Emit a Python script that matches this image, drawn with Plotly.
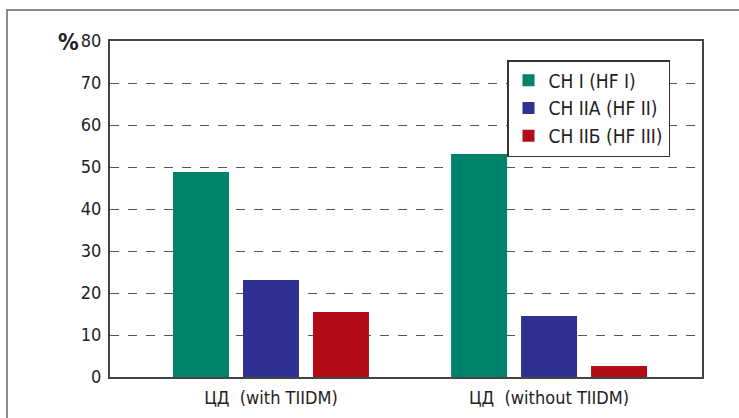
import plotly.graph_objects as go

categories = ["ЦД  (with TIIDM)", "ЦД  (without TIIDM)"]
series_names = ["СН I (HF I)", "СН IIА (HF II)", "СН IIБ (HF III)"]
hf1 = [48.8, 53.1]
hf2 = [23.1, 14.5]
hf3 = [15.5, 2.6]
colors = ["#00826B", "#2E3192", "#B20D17"]
y_ticks = [0, 10, 20, 30, 40, 50, 60, 70, 80]

FONT = "DejaVu Sans Condensed, Liberation Sans Narrow, sans-serif"

fig = go.Figure()
for name, vals, col in zip(series_names, [hf1, hf2, hf3], colors):
    fig.add_trace(go.Bar(x=categories, y=vals, name=name,
                         marker=dict(color=col, line=dict(width=0))))

W, H = 739, 418
L, R, T, B = 110, 37, 41, 41
pw, ph = W - L - R, H - T - B

def px(x):
    return (x - L) / pw

def py(y):
    return (H - B - y) / ph

fig.update_layout(
    width=W, height=H,
    margin=dict(l=L, r=R, t=T, b=B, autoexpand=False),
    paper_bgcolor="white", plot_bgcolor="white",
    barmode="group", bargap=0.245, bargroupgap=0.2,
    font=dict(family=FONT, color="#222", size=16),
    showlegend=True,
    legend=dict(x=px(507), y=py(60), xanchor="left", yanchor="top",
                bgcolor="white", bordercolor="#333", borderwidth=1.5,
                font=dict(size=19, family=FONT, color="#222"),
                itemwidth=30, traceorder="normal"),
    xaxis=dict(showline=True, linecolor="#444", linewidth=2, mirror=True,
               ticks="", tickfont=dict(size=18), showgrid=False,
               automargin=False, ticklabelstandoff=3, range=[-0.579, 1.55]),
    yaxis=dict(range=[0, 80], tickvals=y_ticks, showline=True,
               linecolor="#444", linewidth=2, mirror=True,
               showgrid=True, gridcolor="#555", griddash="dash", gridwidth=1.2,
               zeroline=False, ticks="", ticklabelstandoff=3, automargin=False,
               tickfont=dict(size=18)),
    shapes=[dict(type="path", xref="paper", yref="paper",
                 path=f"M {px(7)} {py(420)} L {px(7)} {py(10)} L {px(745)} {py(10)}",
                 line=dict(color="#666", width=1.5))],
    annotations=[dict(text="<b>%</b>", xref="paper", yref="paper",
                      x=px(81), y=py(42), xanchor="right", yanchor="middle",
                      showarrow=False, font=dict(size=23, family=FONT, color="#222"))],
)

fig.write_html("out.html")
